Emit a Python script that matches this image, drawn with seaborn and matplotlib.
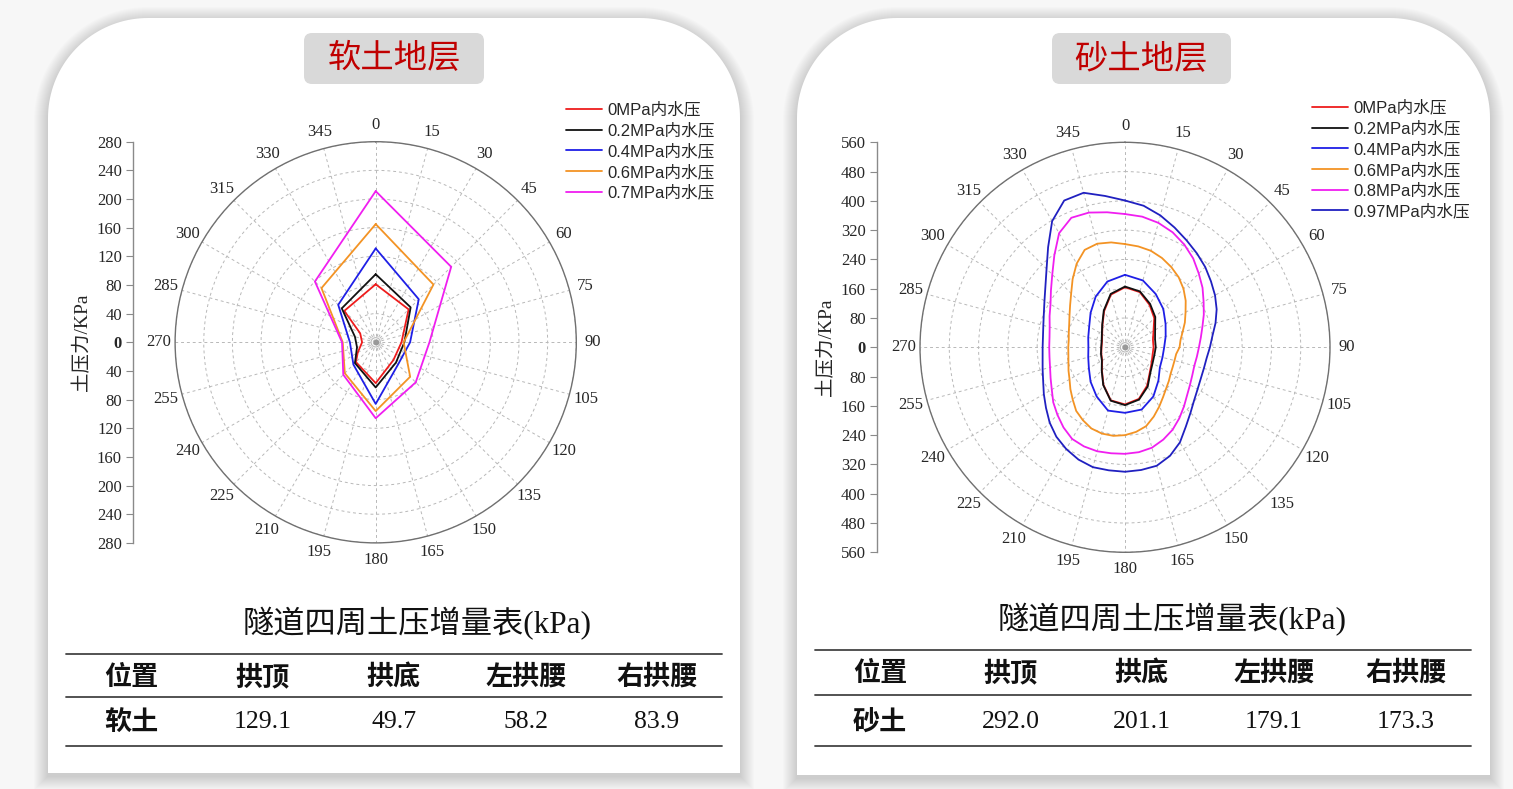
import numpy as np
import pandas as pd
import matplotlib
matplotlib.use('Agg')
import matplotlib.pyplot as plt
import seaborn as sns
from matplotlib.path import Path
from matplotlib.patches import PathPatch, FancyBboxPatch
from matplotlib.lines import Line2D
from matplotlib import font_manager

# ---------------- data ----------------
ANGLE_TICKS = list(range(0, 360, 15))

# soft soil (polyline vertices: angle in degrees, earth pressure kPa)
soft_labels = ['0MPa内水压', '0.2MPa内水压', '0.4MPa内水压', '0.6MPa内水压', '0.7MPa内水压']
soft_colors = ['#ee1c1c', '#111111', '#1f1fe6', '#f39324', '#f01ef0']
soft_ang_0 = [0, 45, 90, 135, 180, 225, 240, 270, 300, 315]
soft_r_0 = [81, 65, 36, 35, 57, 39, 29, 19, 25, 62]
soft_ang_02 = [0, 45, 90, 135, 180, 225, 255, 285, 315]
soft_r_02 = [95, 69, 40, 40, 63, 41, 27, 30, 67]
soft_ang_04 = [0, 45, 90, 135, 180, 225, 270, 315]
soft_r_04 = [131, 85, 48, 44, 86, 44, 36, 74]
soft_ang_06 = [0, 45, 90, 135, 180, 225, 270, 315]
soft_r_06 = [165, 114, 39, 68, 96, 61, 46, 107]
soft_ang_07 = [0, 45, 90, 135, 180, 225, 270, 315]
soft_r_07 = [211, 149, 75, 79, 106, 64, 47, 120]

# sandy soil
sand_labels = ['0MPa内水压', '0.2MPa内水压', '0.4MPa内水压', '0.6MPa内水压', '0.8MPa内水压', '0.97MPa内水压']
sand_colors = ['#ee1c1c', '#111111', '#1f1fe6', '#f39324', '#f01ef0', '#2020c0']
sand_ang_15 = [0, 15, 30, 45, 60, 75, 90, 105, 120, 135, 150, 165,
               180, 195, 210, 225, 240, 255, 270, 285, 300, 315, 330, 345]
sand_ang_7 = [0, 7.5, 15, 22.5, 30, 37.5, 45, 52.5, 60, 67.5, 75, 82.5,
              90, 97.5, 105, 112.5, 120, 127.5, 135, 142.5, 150, 157.5, 165, 172.5,
              180, 187.5, 195, 202.5, 210, 217.5, 225, 232.5, 240, 247.5, 255, 262.5,
              270, 277.5, 285, 292.5, 300, 307.5, 315, 322.5, 330, 337.5, 345, 352.5]
sand_r_0 = [164, 156, 134, 113, 90, 79, 78, 78, 84, 96, 121, 146,
            156, 150, 118, 89, 72, 67, 64, 65, 72, 87, 114, 149]
sand_r_02 = [166, 158, 137, 117, 95, 85, 84, 83, 87, 98, 124, 148,
             158, 151, 119, 90, 73, 68, 65, 66, 73, 88, 116, 151]
sand_r_04 = [198, 189, 168, 148, 128, 115, 107, 106, 110, 129, 155, 176,
             179, 179, 155, 133, 114, 104, 100, 104, 113, 133, 160, 186]
sand_r_06 = [282, 278, 273, 264, 253, 241, 226, 209, 191, 177, 163, 153,
             149, 141, 140, 141, 144, 151, 159, 171, 187, 205, 223, 233,
             240, 244, 244, 240, 230, 219, 202, 188, 175, 167, 160, 156,
             155, 155, 159, 165, 175, 189, 208, 235, 264, 288, 293, 289]
sand_r_08 = [364, 360, 352, 340, 324, 306, 285, 267, 248, 233, 219, 209,
             202, 198, 196, 199, 205, 214, 228, 244, 260, 273, 284, 289,
             291, 292, 294, 293, 289, 276, 261, 247, 231, 220, 212, 208,
             207, 208, 213, 223, 235, 255, 281, 317, 360, 383, 381, 372]
sand_r_097 = [401, 390, 373, 354, 337, 323, 310, 296, 284, 271, 256, 241,
              232, 225, 223, 224, 229, 238, 253, 273, 300, 321, 335, 338,
              340, 339, 339, 332, 321, 308, 291, 272, 256, 242, 233, 227,
              225, 226, 231, 240, 254, 274, 303, 345, 398, 434, 437, 417]

# tables
table_title = '隧道四周土压增量表(kPa)'
table_header = ['位置', '拱顶', '拱底', '左拱腰', '右拱腰']
soft_row_name = '软土'
soft_row_vals = ['129.1', '49.7', '58.2', '83.9']
sand_row_name = '砂土'
sand_row_vals = ['292.0', '201.1', '179.1', '173.3']

soft_title = '软土地层'
sand_title = '砂土地层'
r_axis_label = '土压力/KPa'

# ---------------- style ----------------
sns.set_theme(style='white')
installed = {f.name for f in font_manager.fontManager.ttflist}
CJK = 'Noto Sans CJK SC'
SERIF = ['Liberation Serif', CJK, 'DejaVu Sans']
NARROW = 'Liberation Sans Narrow' if 'Liberation Sans Narrow' in installed else 'Liberation Sans'
plt.rcParams['font.family'] = SERIF
plt.rcParams['axes.unicode_minus'] = False

W, H = 1513, 789
fig = plt.figure(figsize=(W / 100, H / 100), dpi=100)
fig.patch.set_facecolor('#f7f7f7')
bg = fig.add_axes([0, 0, 1, 1])
bg.set_xlim(0, W)
bg.set_ylim(H, 0)
bg.axis('off')
bg.set_zorder(0)


def card_path(x0, y0, x1, y1, R):
    a1 = np.linspace(np.pi, 1.5 * np.pi, 40)
    a2 = np.linspace(1.5 * np.pi, 2 * np.pi, 40)
    pts = [(x0, y1)]
    pts += list(zip(x0 + R + R * np.cos(a1), y0 + R + R * np.sin(a1)))
    pts += list(zip(x1 - R + R * np.cos(a2), y0 + R + R * np.sin(a2)))
    pts += [(x1, y1), (x0, y1)]
    codes = [Path.MOVETO] + [Path.LINETO] * (len(pts) - 2) + [Path.CLOSEPOLY]
    return Path(pts, codes)


for (x0, y0, x1, y1) in [(48, 18, 740, 773), (797, 18, 1490, 775)]:
    for k in range(14, 0, -1):
        bg.add_patch(PathPatch(card_path(x0 - k, y0 - k + 3, x1 + k, y1 + k + 3, 100 + k),
                               fc='black', ec='none', alpha=0.012))
    bg.add_patch(PathPatch(card_path(x0, y0, x1, y1, 100), fc='white', ec='none'))

# title boxes
for (bx, bw, cx, txt) in [(304, 180, 394, soft_title), (1052, 179, 1141, sand_title)]:
    bg.add_patch(FancyBboxPatch((bx, 33), bw, 51, boxstyle='round,pad=0,rounding_size=8',
                                fc='#d9d9d9', ec='none'))
    bg.text(cx, 59, txt, color='#c00000', fontsize=24, family=[CJK], ha='center', va='center')


def make_polar(rect, rmax, step):
    ax = fig.add_axes(rect, projection='polar')
    ax.set_zorder(2)
    ax.set_facecolor('none')
    ax.set_theta_zero_location('N')
    ax.set_theta_direction(-1)
    ax.set_ylim(0, rmax)
    ax.set_yticks(np.arange(step, rmax + 1, step))
    ax.set_yticklabels([])
    ax.set_xticks(np.deg2rad(ANGLE_TICKS))
    ax.set_xticklabels([str(a) for a in ANGLE_TICKS], fontsize=12, family=SERIF)
    ax.tick_params(axis='x', pad=-1)
    ax.grid(True, linestyle=(0, (3, 3)), color='#b8b8b8', linewidth=0.7)
    ax.spines['polar'].set_color('#707070')
    ax.spines['polar'].set_linewidth(1.0)
    ax.scatter([0], [0], s=10, color='#999999', zorder=3)
    ax.scatter([0], [0], s=45, facecolor='none', edgecolor='#bbbbbb', linewidth=0.8, zorder=3)
    return ax


def make_raxis(xpx, rect, rmax, step):
    a = fig.add_axes([xpx / W, rect[1], 0.0004, rect[3]])
    a.set_zorder(2)
    a.set_facecolor('none')
    for s in ['right', 'top', 'bottom']:
        a.spines[s].set_visible(False)
    a.spines['left'].set_color('#8a8a8a')
    a.spines['left'].set_linewidth(1.0)
    a.set_xticks([])
    a.set_ylim(-rmax, rmax)
    ticks = np.arange(-rmax, rmax + 1, step)
    a.set_yticks(ticks)
    a.set_yticklabels([str(abs(int(t))) for t in ticks], family=SERIF)
    a.tick_params(axis='y', left=True, length=5, width=0.8, color='#8a8a8a', labelsize=12, pad=3)
    for lab, t in zip(a.get_yticklabels(), ticks):
        if t == 0:
            lab.set_fontweight('bold')
    a.set_ylabel(r_axis_label, fontsize=14, labelpad=4, family=SERIF)
    return a


def draw_series(ax, angs, rs, labels, colors):
    rows = []
    for ang, r, lab in zip(angs, rs, labels):
        ang = list(ang) + [ang[0] + 360]
        r = list(r) + [r[0]]
        for a_, r_ in zip(ang, r):
            rows.append({'theta': np.deg2rad(a_), 'r': r_, 'series': lab})
    df = pd.DataFrame(rows)
    sns.lineplot(data=df, x='theta', y='r', hue='series', palette=dict(zip(labels, colors)),
                 sort=False, estimator=None, linewidth=1.3, ax=ax, legend=False)
    ax.set_xlabel('')
    ax.set_ylabel('')


def add_legend(ax, labels, colors, x, y):
    handles = [Line2D([0], [0], color=c, lw=1.3) for c in colors]
    ax.legend(handles, labels, loc='upper left', bbox_to_anchor=(x, y), bbox_transform=bg.transData,
              frameon=False, prop={'family': [NARROW, CJK], 'size': 12}, handlelength=2.15,
              handletextpad=0.35, labelspacing=0.3, borderaxespad=0, borderpad=0)


# ---- left: soft soil ----
rectL = [175.1 / W, 1 - 542.9 / H, 401.2 / W, 401.2 / H]
axL = make_polar(rectL, 280, 40)
draw_series(axL, [soft_ang_0, soft_ang_02, soft_ang_04, soft_ang_06, soft_ang_07],
            [soft_r_0, soft_r_02, soft_r_04, soft_r_06, soft_r_07], soft_labels, soft_colors)
axL.set_ylim(0, 280)
make_raxis(133, rectL, 280, 40)
add_legend(axL, soft_labels, soft_colors, 566, 102)

# ---- right: sandy soil ----
rectR = [920 / W, 1 - 552.3 / H, 410 / W, 410 / H]
axR = make_polar(rectR, 560, 80)
draw_series(axR, [sand_ang_15, sand_ang_15, sand_ang_15, sand_ang_7, sand_ang_7, sand_ang_7],
            [sand_r_0, sand_r_02, sand_r_04, sand_r_06, sand_r_08, sand_r_097],
            sand_labels, sand_colors)
axR.set_ylim(0, 560)
make_raxis(877, rectR, 560, 80)
add_legend(axR, sand_labels, sand_colors, 1312, 100)


# ---- tables ----
def draw_table(cx_title, y_title, xs, xl, xr, ylines, yhead, yrow, name, vals):
    bg.text(cx_title, y_title, table_title, fontsize=22.5, family=SERIF, ha='center', va='center', color='#111111')
    for yl in ylines:
        bg.plot([xl, xr], [yl, yl], color='#444444', lw=1.3)
    for x, h in zip(xs, table_header):
        bg.text(x, yhead, h, fontsize=19.5, family=[CJK], fontweight='bold', ha='center', va='center', color='#111111')
    bg.text(xs[0], yrow, name, fontsize=19.5, family=[CJK], fontweight='bold', ha='center', va='center', color='#111111')
    for x, v in zip(xs[1:], vals):
        bg.text(x, yrow, v, fontsize=18.5, family=SERIF, ha='center', va='center', color='#111111')


draw_table(417, 624, [131, 263, 394, 526, 657], 66, 722, [654, 697, 746], 677, 722, soft_row_name, soft_row_vals)
draw_table(1172, 620, [880, 1011, 1142, 1274, 1406], 815, 1471, [650, 695, 746], 673, 722, sand_row_name, sand_row_vals)

fig.savefig('out.png', dpi=100, facecolor=fig.get_facecolor())
